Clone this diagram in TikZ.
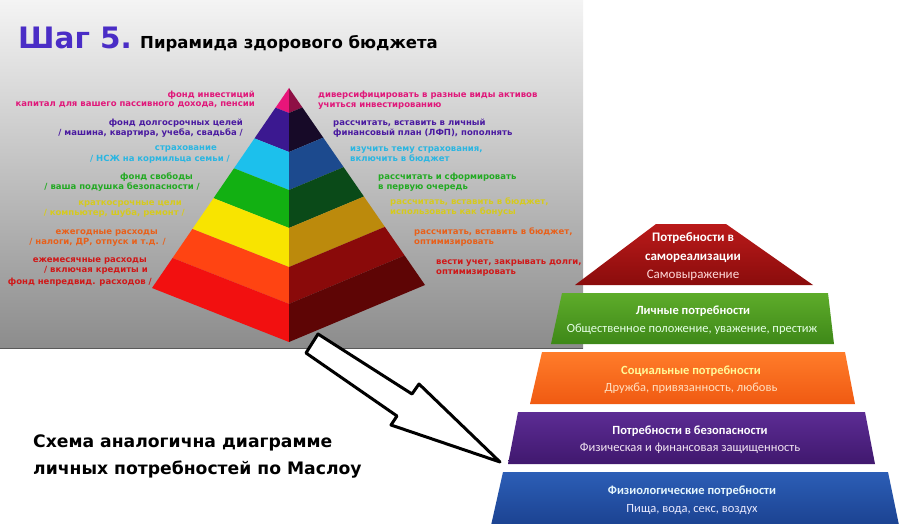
\documentclass[tikz,border=0pt]{standalone}
\usepackage{fontspec}
\setmainfont{DejaVu Sans}
\newfontfamily\mfont{Carlito}
\newfontfamily\cfont{DejaVu Sans}
\usetikzlibrary{calc}
\definecolor{panelTop}{HTML}{F4F4F4}
\definecolor{panelMid}{HTML}{C4C4C4}
\definecolor{panelBot}{HTML}{8C8C8C}
\definecolor{titleP}{HTML}{4A2DC6}
% pyramid faces
\definecolor{pkL}{HTML}{E8157A}\definecolor{pkR}{HTML}{8E1045}
\definecolor{puL}{HTML}{3B1890}\definecolor{puR}{HTML}{170A28}
\definecolor{cyL}{HTML}{1CC0EC}\definecolor{cyR}{HTML}{1C4A8E}
\definecolor{grL}{HTML}{12B012}\definecolor{grR}{HTML}{0A4A18}
\definecolor{yeL}{HTML}{F8E400}\definecolor{yeR}{HTML}{BC8A0C}
\definecolor{orL}{HTML}{FF4412}\definecolor{orR}{HTML}{8A0A0A}
\definecolor{reL}{HTML}{F21010}\definecolor{reR}{HTML}{5E0505}
% label colours
\definecolor{tPk}{HTML}{E0187A}
\definecolor{tPu}{HTML}{4A1AA0}
\definecolor{tCy}{HTML}{2AB6E2}
\definecolor{tGr}{HTML}{22AA22}
\definecolor{tYe}{HTML}{D6CA1E}
\definecolor{tOr}{HTML}{E8601A}
\definecolor{tRe}{HTML}{D01818}
% maslow
\definecolor{mRedT}{HTML}{BA1A1A}\definecolor{mRedB}{HTML}{8A0C0C}
\definecolor{mGrT}{HTML}{5EAC2A}\definecolor{mGrB}{HTML}{3E8818}
\definecolor{mOrT}{HTML}{FF7C2A}\definecolor{mOrB}{HTML}{F05A12}
\definecolor{mPuT}{HTML}{5C2C94}\definecolor{mPuB}{HTML}{40186E}
\definecolor{mBlT}{HTML}{2C5EB6}\definecolor{mBlB}{HTML}{1A408E}
\tikzset{
  lbl/.style={font=\fontsize{8.5}{10}\selectfont\bfseries, inner sep=0pt},
  lleft/.style={lbl, anchor=base east},
  lright/.style={lbl, anchor=base west},
  mtitle/.style={font=\mfont\fontsize{12.5}{13}\selectfont\bfseries, inner sep=0pt, anchor=base},
  msub/.style={font=\mfont\fontsize{12.5}{13}\selectfont, inner sep=0pt, anchor=base},
  toptitle/.style={font=\mfont\fontsize{13}{14}\selectfont\bfseries, inner sep=0pt, anchor=base, text=white},
}
\begin{document}
\begin{tikzpicture}[x=1pt,y=-1pt]
\useasboundingbox (0,0) rectangle (900,524);
\fill[white] (0,0) rectangle (900,524);
% grey panel
\shade[top color=panelTop, middle color=panelMid, bottom color=panelBot] (0,0) rectangle (583,348);
\draw[line width=1.2pt, color=black!65] (0,348.6) -- (583,348.6);
% title
\node[anchor=base west, inner sep=0pt, text=titleP, font=\fontsize{29.5}{30}\selectfont\bfseries] (step) at (18,49) {Шаг 5.};
\node[anchor=base west, inner sep=0pt, font=\fontsize{16.5}{17}\selectfont\bfseries] (ttl) at (140,49) {Пирамида здорового бюджета};
% 3D pyramid
\coordinate (A) at (289,88);
\coordinate (L) at (152,288);
\coordinate (F) at (289,342);
\coordinate (R) at (425,285);
\foreach \ta/\tb/\cl/\cr in {0/0.0984/pkL/pkR, 0.0984/0.252/puL/puR, 0.252/0.4016/cyL/cyR, 0.4016/0.551/grL/grR, 0.551/0.705/yeL/yeR, 0.705/0.850/orL/orR, 0.850/1/reL/reR}{
  \fill[\cl] ($(A)!\ta!(L)$) -- ($(A)!\tb!(L)$) -- ($(A)!\tb!(F)$) -- ($(A)!\ta!(F)$) -- cycle;
  \fill[\cr] ($(A)!\ta!(F)$) -- ($(A)!\tb!(F)$) -- ($(A)!\tb!(R)$) -- ($(A)!\ta!(R)$) -- cycle;
}
% left labels
\node[lleft, text=tPk] (l1a) at (255,97.5) {фонд инвестиций};
\node[lleft, text=tPk] (l1b) at (255,107) {капитал для вашего пассивного дохода, пенсии};
\node[lleft, text=tPu] (l2a) at (243,125.5) {фонд долгосрочных целей};
\node[lleft, text=tPu] (l2b) at (243,135.5) {/ машина, квартира, учеба, свадьба /};
\node[lleft, text=tCy] (l3a) at (217,150.5) {страхование};
\node[lleft, text=tCy] (l3b) at (230,162) {/ НСЖ на кормильца семьи /};
\node[lleft, text=tGr] (l4a) at (193,179.5) {фонд свободы};
\node[lleft, text=tGr] (l4b) at (200,189.5) {/ ваша подушка безопасности /};
\node[lleft, text=tYe] (l5a) at (182,205) {краткосрочные цели};
\node[lleft, text=tYe] (l5b) at (185,215) {/ компьютер, шуба, ремонт /};
\node[lleft, text=tOr] (l6a) at (158,234.5) {ежегодные расходы};
\node[lleft, text=tOr] (l6b) at (166,244.5) {/ налоги, ДР, отпуск и т.д. /};
\node[lleft, text=tRe] (l7a) at (147,262.5) {ежемесячные расходы};
\node[lleft, text=tRe] (l7b) at (148,272.5) {/ включая кредиты и};
\node[lleft, text=tRe] (l7c) at (152,284) {фонд непредвид. расходов /};
% right labels
\node[lright, text=tPk] (r1a) at (318,97.5) {диверсифицировать в разные виды активов};
\node[lright, text=tPk] (r1b) at (318,107.5) {учиться инвестированию};
\node[lright, text=tPu] (r2a) at (333,125.5) {рассчитать, вставить в личный};
\node[lright, text=tPu] (r2b) at (333,135.5) {финансовый план (ЛФП), пополнять};
\node[lright, text=tCy] (r3a) at (350,151.5) {изучить тему страхования,};
\node[lright, text=tCy] (r3b) at (350,161.5) {включить в бюджет};
\node[lright, text=tGr] (r4a) at (378,179.5) {рассчитать и сформировать};
\node[lright, text=tGr] (r4b) at (378,189.5) {в первую очередь};
\node[lright, text=tYe] (r5a) at (390,204.5) {рассчитать, вставить в бюджет,};
\node[lright, text=tYe] (r5b) at (390,214.5) {использовать как бонусы};
\node[lright, text=tOr] (r6a) at (414,234.5) {рассчитать, вставить в бюджет,};
\node[lright, text=tOr] (r6b) at (414,244.5) {оптимизировать};
\node[lright, text=tRe] (r7a) at (436,264.5) {вести учет, закрывать долги,};
\node[lright, text=tRe] (r7b) at (436,274.5) {оптимизировать};
% Maslow pyramid
\shade[top color=mRedT, bottom color=mRedB] (656,224) -- (726,224) -- (813,285) -- (575,285) -- cycle;
\shade[top color=mGrT, bottom color=mGrB] (562,293) -- (828,293) -- (834,344) -- (551,344) -- cycle;
\shade[top color=mOrT, bottom color=mOrB] (542,352) -- (845,352) -- (855,404) -- (530,404) -- cycle;
\shade[top color=mPuT, bottom color=mPuB] (518,412) -- (865,412) -- (875,464) -- (508,464) -- cycle;
\shade[top color=mBlT, bottom color=mBlB] (503,472) -- (888,472) -- (900,530) -- (490,530) -- cycle;
\node[toptitle] (m1a) at (693,241.5) {Потребности в};
\node[toptitle] (m1b) at (693,260.5) {самореализации};
\node[msub, text=red!15!white, font=\mfont\fontsize{13}{14}\selectfont] (m1c) at (693,278.5) {Самовыражение};
\node[mtitle, text=white] (m2a) at (693,314) {Личные потребности};
\node[msub, text=green!10!white] (m2b) at (692,332) {Общественное положение, уважение, престиж};
\node[mtitle, text=yellow!40!white] (m3a) at (691,374) {Социальные потребности};
\node[msub, text=orange!25!white] (m3b) at (691,391) {Дружба, привязанность, любовь};
\node[mtitle, text=white] (m4a) at (690,434) {Потребности в безопасности};
\node[msub, text=violet!10!white] (m4b) at (690,451) {Физическая и финансовая защищенность};
\node[mtitle, text=cyan!10!white] (m5a) at (692,494) {Физиологические потребности};
\node[msub, text=blue!8!white] (m5b) at (692,512) {Пища, вода, секс, воздух};
% block arrow
\draw[line width=3pt, line join=round, fill=white] (306,353) -- (318,334) -- (412,394) -- (419,384) -- (500,462) -- (391,425) -- (397,416) -- cycle;
% caption
\node[anchor=base west, inner sep=0pt, font=\cfont\fontsize{17.2}{17}\selectfont\bfseries] (c1) at (33,447) {Схема аналогична диаграмме};
\node[anchor=base west, inner sep=0pt, font=\cfont\fontsize{17.2}{17}\selectfont\bfseries] (c2) at (33,474) {личных потребностей по Маслоу};
\end{tikzpicture}
\end{document}
